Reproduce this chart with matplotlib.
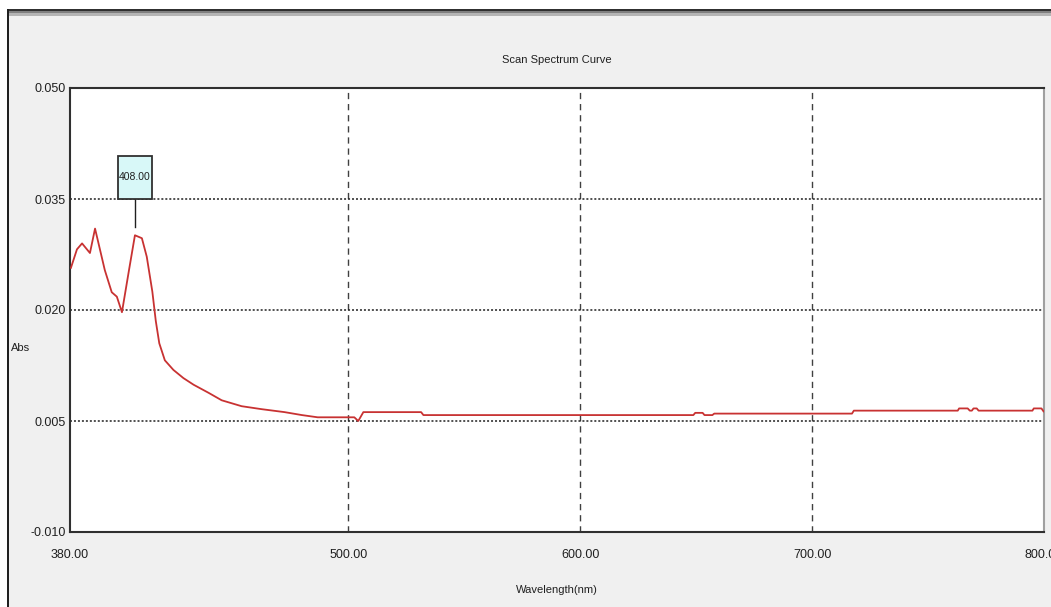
import matplotlib
matplotlib.use("Agg")
import matplotlib.pyplot as plt
from matplotlib.patches import Rectangle
from matplotlib.transforms import ScaledTranslation

# Scan data: wavelength (nm) and absorbance
wavelength = [380.4, 383.0, 385.2, 388.6, 390.8, 395.0, 398.0, 400.2, 402.4,
              405.5, 408.0, 411.0, 413.1, 415.5, 417.0, 418.5, 420.9, 424.6,
              428.9, 433.3, 439.8, 445.4, 454.0, 462.6, 472.5, 480.0, 486.8,
              502.6, 504.3, 506.5, 531.4, 532.4, 648.8, 649.6, 652.8, 653.6,
              657.0, 657.8, 717.2, 718.0, 762.8, 763.4, 767.1, 768.0, 768.9,
              769.6, 771.0, 771.8, 795.0, 795.6, 798.9, 799.8]
absorbance = [0.0257, 0.0282, 0.0290, 0.0277, 0.0310, 0.0254, 0.0224, 0.0218, 0.0197,
              0.0255, 0.0301, 0.0297, 0.0272, 0.0225, 0.0185, 0.0155, 0.0132, 0.0119,
              0.0108, 0.0099, 0.0088, 0.0078, 0.0070, 0.0066, 0.0062, 0.0058, 0.0055,
              0.0055, 0.0050, 0.0062, 0.0062, 0.0058, 0.0058, 0.0061, 0.0061, 0.0058,
              0.0058, 0.0060, 0.0060, 0.0064, 0.0064, 0.0067, 0.0067, 0.0064, 0.0064,
              0.0067, 0.0067, 0.0064, 0.0064, 0.0067, 0.0067, 0.0063]

peak_wavelength = 408.00
peak_absorbance = 0.0301

x_ticks = [380, 500, 600, 700, 800]
x_tick_labels = ["380.00", "500.00", "600.00", "700.00", "800.00"]
y_ticks = [-0.010, 0.005, 0.020, 0.035, 0.050]
y_tick_labels = ["-0.010", "0.005", "0.020", "0.035", "0.050"]

FONT = ["Liberation Sans Narrow", "Liberation Sans", "DejaVu Sans"]
W, H = 1051, 607

fig = plt.figure(figsize=(W / 100, H / 100), dpi=100, facecolor="#f0f0f0")

# window frame: white margin, dark edges and a gray title-bar shadow
def fig_rect(x0, y0, w, h, color):
    fig.patches.append(Rectangle((x0 / W, 1 - (y0 + h) / H), w / W, h / H,
                                 transform=fig.transFigure, color=color,
                                 zorder=-10, linewidth=0))

fig_rect(0, 0, W, 9, "white")
fig_rect(0, 0, 7, H, "white")
fig_rect(7, 9, W - 7, 2, "#303030")
fig_rect(7, 11, W - 7, 2, "#808080")
fig_rect(7, 13, W - 7, 3, "#b4b4b4")
fig_rect(7, 9, 2, H - 9, "#202020")

ax = fig.add_axes([70 / W, 1 - 532 / H, (1044 - 70) / W, (532 - 88) / H])
ax.set_facecolor("white")

ax.plot(wavelength, absorbance, color="#c83232", linewidth=1.3, zorder=3)

ax.set_xlim(380, 800)
ax.set_ylim(-0.010, 0.050)

# grid: dashed verticals, dotted horizontals
for xv in x_ticks[1:-1]:
    ax.axvline(xv, color="#404040", linewidth=1.0, dashes=(4.5, 3.5), zorder=1)
for yv in y_ticks[1:-1]:
    ax.axhline(yv, color="#202020", linewidth=1.1, dashes=(1.3, 1.3), zorder=1)

ax.set_xticks(x_ticks)
ax.set_xticklabels(x_tick_labels)
ax.set_yticks(y_ticks)
ax.set_yticklabels(y_tick_labels)
ax.tick_params(length=0, pad=3, labelsize=9, colors="#202020")
ax.tick_params(axis="x", pad=12)
for lab in ax.get_xticklabels() + ax.get_yticklabels():
    lab.set_family(FONT)
    lab.set_clip_on(False)

for side in ("left", "top", "bottom"):
    ax.spines[side].set_color("#303030")
    ax.spines[side].set_linewidth(1.5)
ax.spines["right"].set_color("#a0a0a0")
ax.spines["right"].set_linewidth(1.5)

# peak marker: label box and leader line
ax.plot([peak_wavelength, peak_wavelength], [0.035, peak_absorbance + 0.0011],
        color="#202020", linewidth=1.0, zorder=4)
box_tr = fig.dpi_scale_trans + ScaledTranslation(peak_wavelength, 0.035, ax.transData)
ax.add_patch(Rectangle((-0.17, 0.0), 0.34, 0.43, transform=box_tr,
                       facecolor="#d8f8f8", edgecolor="#303030", linewidth=1.3,
                       zorder=5, clip_on=False))
ax.annotate(f"{peak_wavelength:.2f}", xy=(peak_wavelength, 0.035),
            xytext=(0, 15.5), textcoords="offset points", ha="center",
            va="center", fontsize=7.5, family=FONT, color="#202020", zorder=6,
            annotation_clip=False)

fig.text(557 / W, 1 - 60 / H, "Scan Spectrum Curve", ha="center", va="center",
         fontsize=8, family=FONT, color="#202020")
fig.text(557 / W, 1 - 590 / H, "Wavelength(nm)", ha="center", va="center",
         fontsize=8, family=FONT, color="#202020")
fig.text(21 / W, 1 - 348 / H, "Abs", ha="center", va="center",
         fontsize=8, family=FONT, color="#202020")

fig.savefig("out.png", dpi=100, facecolor=fig.get_facecolor())
